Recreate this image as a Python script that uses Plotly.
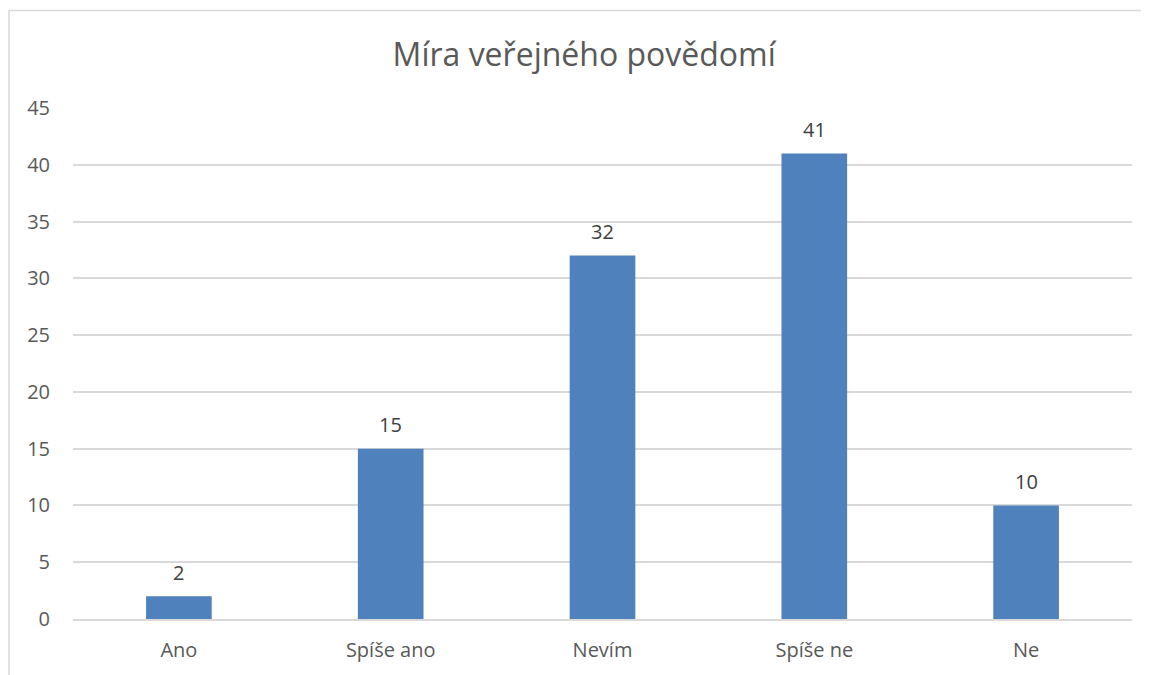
import plotly.graph_objects as go

categories = ["Ano", "Spíše ano", "Nevím", "Spíše ne", "Ne"]
values = [2, 15, 32, 41, 10]
y_ticks = [0, 5, 10, 15, 20, 25, 30, 35, 40, 45]
title_text = "Míra veřejného povědomí"

W, H = 1141, 667
L, T = 65, 100
PW, PH = 1059, 513

fig = go.Figure(go.Bar(
    x=categories, y=values,
    marker=dict(color="#4f81bd", line=dict(width=0)),
))

for c, v in zip(categories, values):
    fig.add_annotation(x=c, y=v, text=str(v), showarrow=False,
                       yanchor="middle", yshift=24,
                       font=dict(family="Open Sans", size=20, color="#404040"))

fig.update_layout(
    width=W, height=H,
    margin=dict(l=L, r=W - L - PW, t=T, b=H - T - PH),
    paper_bgcolor="white", plot_bgcolor="white",
    bargap=0.69,
    showlegend=False,
    title=dict(text=title_text, x=0.505, xanchor="center", y=1 - 47 / H, yanchor="middle",
               font=dict(family="Open Sans", size=32, color="#595959")),
    font=dict(family="Open Sans", color="#595959", size=20),
)
fig.update_yaxes(range=[0, 45], tickvals=y_ticks, showgrid=True, gridcolor="#d9d9d9",
                 gridwidth=1.5, zeroline=False, showline=False, ticks="",
                 ticklabelstandoff=22, tickfont=dict(size=20, color="#595959"))
fig.update_xaxes(showgrid=False, showline=True, linecolor="#d9d9d9", linewidth=1.5,
                 ticks="", ticklabelstandoff=12, tickfont=dict(size=20, color="#595959"))

# outer chart border (top and left visible)
fig.add_shape(type="rect", xref="paper", yref="paper",
              x0=(1 - L) / PW, x1=1.5, y0=-0.5, y1=(T + PH - 2) / PH,
              line=dict(color="#d9d9d9", width=1.5), layer="below")

fig.write_html("out.html")
